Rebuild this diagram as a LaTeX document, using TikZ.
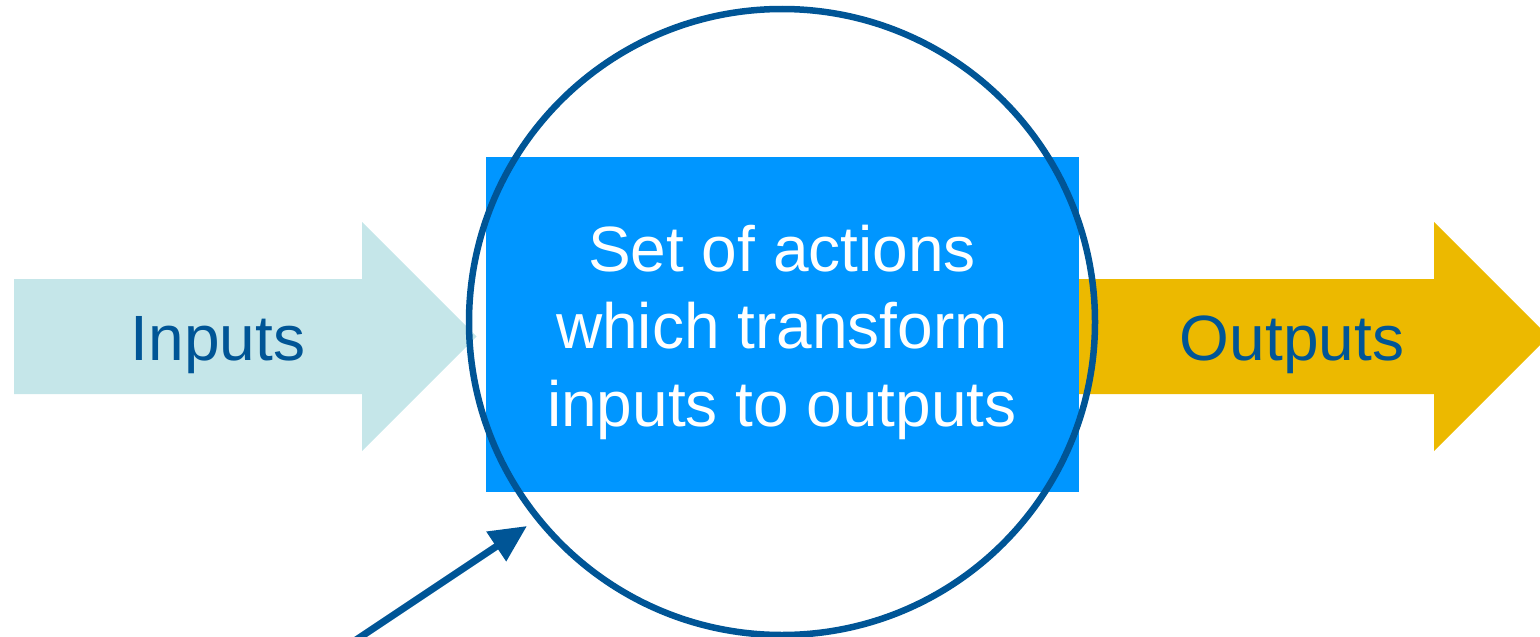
\documentclass[tikz,border=0pt]{standalone}
\usepackage{fontspec}
\setmainfont{Liberation Sans}
\usetikzlibrary{arrows.meta}
\definecolor{inblue}{RGB}{197,230,233}
\definecolor{outgold}{RGB}{236,185,0}
\definecolor{boxblue}{RGB}{0,150,255}
\definecolor{darkblue}{RGB}{0,85,150}
\tikzset{bigtext/.style={font=\fontsize{64}{77.5}\selectfont}}
\begin{document}
\begin{tikzpicture}[x=1pt,y=-1pt]
			\useasboundingbox (0,0) rectangle (1540,637);
			%coordinates
			\coordinate (C) at (782,322);
			\coordinate (s) at (356,640);
			\coordinate (t) at (527,526);
			%Arrows
			\fill[inblue] (14,279) -- (362,279) -- (362,222) -- (476.5,336.5) -- (362,451) -- (362,394) -- (14,394) -- cycle;
			\fill[outgold] (1070,279) -- (1434,279) -- (1434,222) -- (1548.5,336.5) -- (1434,451) -- (1434,394) -- (1070,394) -- cycle;
			\node[darkblue, bigtext] (in) at (218,345) {Inputs};
			\node[darkblue, bigtext] (out) at (1292,345) {Outputs};
			%Process
			\node[fill=boxblue, minimum width=593pt, minimum height=335pt, inner sep=0pt] (box) at (782.5,324.5) {};
			\node[text=white, align=center, bigtext] (proc) at (782,332) {Set of actions\\which transform\\inputs to outputs};
			\draw[darkblue, line width=6.5pt] (C) circle (313);
			%Pointer
			\draw[-{Triangle[length=37pt,width=34pt]}, darkblue, line width=7pt] (s) -- (t);
		\end{tikzpicture}
\end{document}
